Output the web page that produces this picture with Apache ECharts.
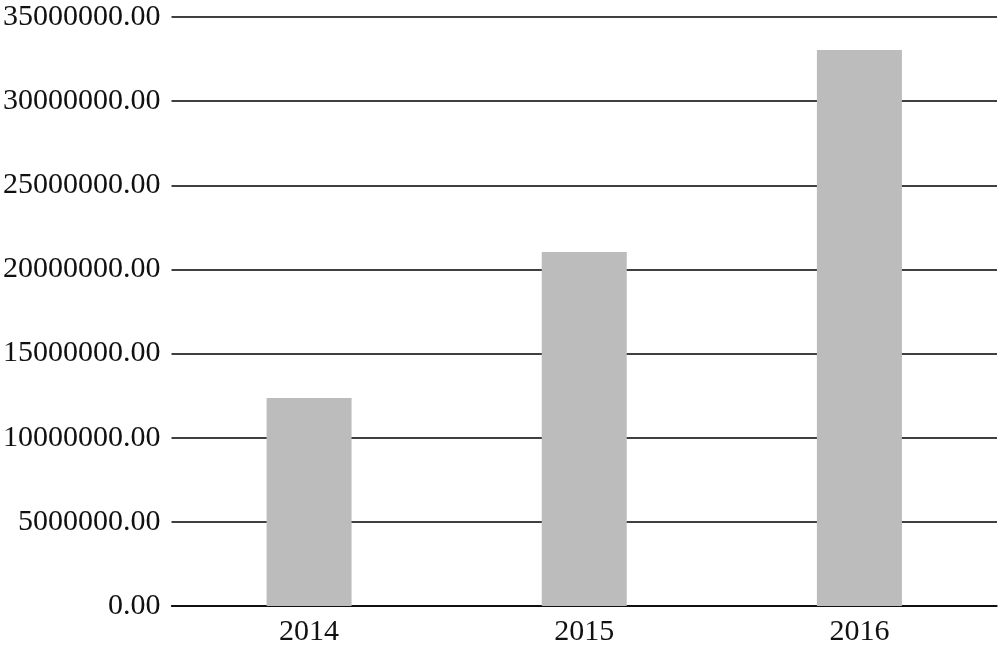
<!DOCTYPE html>
<html>
<head>
<meta charset="utf-8">
<script src="https://cdn.jsdelivr.net/npm/echarts@6/dist/echarts.min.js"></script>
<style>html,body{margin:0;padding:0;background:#fff}#c{width:1000px;height:648px}</style>
</head>
<body>
<div id="c"></div>
<script>
const categories = ['2014', '2015', '2016'];
const values = [12360000, 21030000, 33040000];

const chart = echarts.init(document.getElementById('c'), null, {renderer: 'canvas'});
chart.setOption({
  animation: false,
  backgroundColor: '#fff',
  grid: {left: 171, right: 3, top: 17, bottom: 42, containLabel: false},
  xAxis: {
    type: 'category',
    data: categories,
    axisLine: {show: true, lineStyle: {color: '#000', width: 1.5}},
    axisTick: {show: false},
    axisLabel: {color: '#111', fontFamily: 'Liberation Serif', fontSize: 30, margin: 11}
  },
  yAxis: {
    type: 'value',
    min: 0, max: 35000000, interval: 5000000,
    axisLine: {show: false},
    axisTick: {show: false},
    axisLabel: {color: '#111', fontFamily: 'Liberation Serif', fontSize: 30, margin: 11,
      formatter: v => v.toFixed(2)},
    splitLine: {show: true, lineStyle: {color: '#000', width: 1.5}}
  },
  series: [{
    type: 'bar',
    data: values,
    barWidth: 85,
    itemStyle: {color: '#bcbcbc'},
    z: 3
  }]
});
</script>
</body>
</html>
